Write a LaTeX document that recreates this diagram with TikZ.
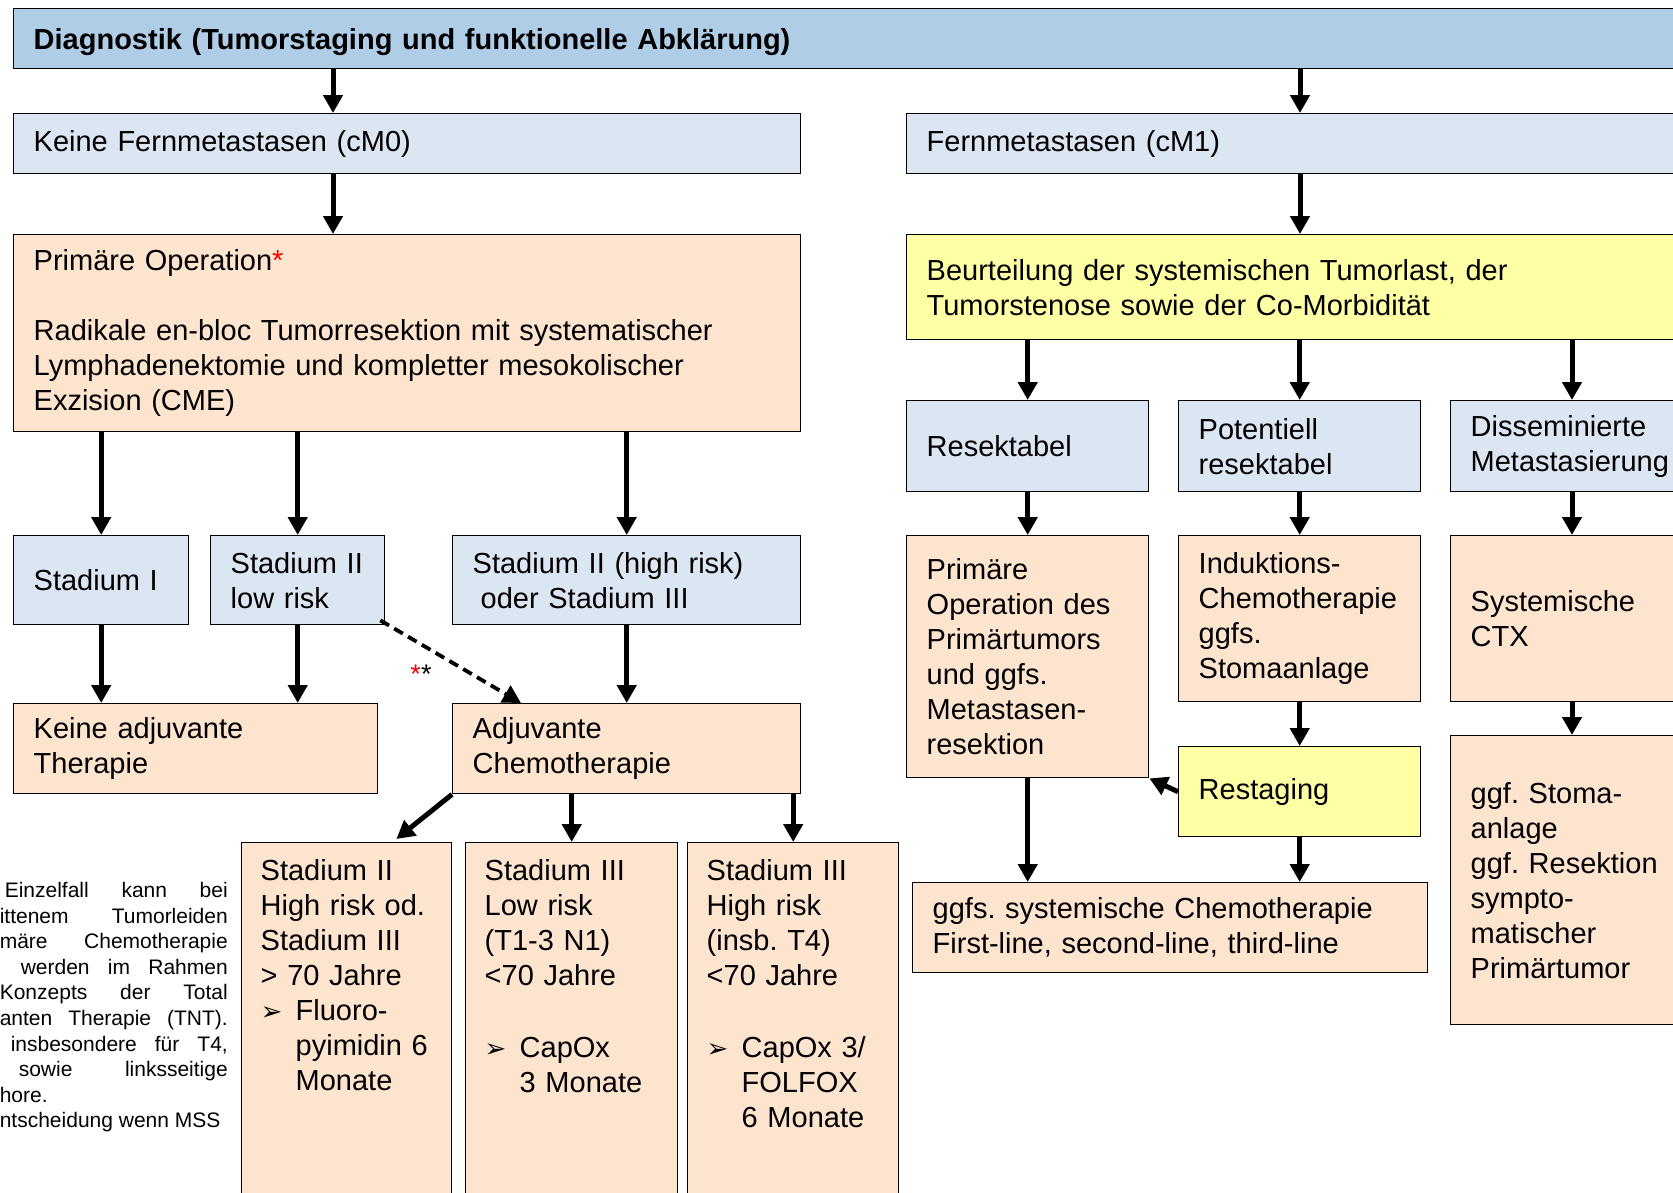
\documentclass[tikz,border=0pt]{standalone}
\usepackage{fontspec}
\setmainfont{Liberation Sans}
\newfontfamily\symfont{DejaVu Sans}
\usepackage{xcolor}
\usetikzlibrary{arrows.meta, positioning}
\definecolor{diagblue}{HTML}{B0CDE8}
\definecolor{paleblue}{HTML}{DCE6F2}
\definecolor{peach}{HTML}{FDE4CE}
\definecolor{paleyellow}{HTML}{FFFFA6}
\hyphenpenalty=10000
\frenchspacing

\newcommand{\bul}{{\symfont\fontsize{26}{26}\selectfont ➢}}
\newcommand{\bitem}[1]{\makebox[35pt][l]{\bul}\parbox[t]{137pt}{#1}}

\begin{document}
\begin{tikzpicture}[
    x=1pt, y=-1pt,
    every node/.style={font=\fontsize{29}{35}\selectfont},
    box/.style={draw=black, line width=1.4pt, anchor=north west, align=left, inner xsep=20pt, inner ysep=4pt},
    topbox/.style={box, fill=diagblue, font=\fontsize{29}{35}\selectfont\bfseries, text depth=0pt},
    bluebox/.style={box, fill=paleblue},
    peachbox/.style={box, fill=peach},
    yellowbox/.style={box, fill=paleyellow},
    tallbox/.style={peachbox, inner xsep=19pt, inner ysep=17pt, text depth=420pt},
    flow/.style={line width=5pt, -{Triangle[width=19pt,length=18pt]}},
    hint/.style={flow, line width=3.8pt, dash pattern=on 10pt off 6pt},
    fnote/.style={font=\fontsize{21}{25.6}\selectfont, align=right, inner sep=0pt, anchor=north east}
]
\clip (0,0) rectangle (1673,1192);

% Diagnostik
\node[topbox, text width=1647pt, minimum height=60pt] (diag) at (13,8) {Diagnostik (Tumorstaging und funktionelle Abklärung)};

% Left branch (cM0)
\node[bluebox, text width=747pt, minimum height=60pt] (cm0) at (13,113) {Keine Fernmetastasen (cM0)};
\node[peachbox, text width=747pt, minimum height=197pt] (op) at (13,234) {Primäre Operation{\color{red}*}\\[35pt]Radikale en-bloc Tumorresektion mit systematischer\\Lymphadenektomie und kompletter mesokolischer\\Exzision (CME)};

\node[bluebox, text width=135pt, minimum height=89pt] (st1) at (13,535) {Stadium I};
\node[bluebox, text width=134pt, minimum height=89pt] (st2low) at (210,535) {Stadium II\\low risk};
\node[bluebox, text width=308pt, minimum height=89pt] (st2high) at (452,535) {Stadium II (high risk)\\\hspace*{8pt}oder Stadium III};

\node[peachbox, text width=324pt, minimum height=90pt] (keine) at (13,703) {Keine adjuvante\\Therapie};
\node[peachbox, text width=308pt, minimum height=90pt] (adj) at (452,703) {Adjuvante\\Chemotherapie};

\node[tallbox, text width=172pt] (ad1) at (241,842) {Stadium II\\High risk od.\\Stadium III\\> 70 Jahre\\\bitem{Fluoro-\\pyimidin 6\\Monate}};
\node[tallbox, text width=174pt] (ad2) at (465,842) {Stadium III\\Low risk\\(T1-3 N1)\\<70 Jahre\\[37pt]\bitem{CapOx\\3 Monate}};
\node[tallbox, text width=173pt] (ad3) at (687,842) {Stadium III\\High risk\\(insb. T4)\\<70 Jahre\\[37pt]\bitem{CapOx 3/\\FOLFOX\\6 Monate}};

\node[font=\fontsize{27}{27}\selectfont, inner sep=0pt] (stars) at (421,674) {{\color{red}*}*};

% Footnote (cut at left edge)
\node[fnote] (fn) at (228,882) {\makebox[223pt][s]{Einzelfall kann bei}\\
\makebox[228pt][s]{ittenem Tumorleiden}\\
\makebox[228pt][s]{märe Chemotherapie}\\
\makebox[207pt][s]{werden im Rahmen}\\
\makebox[228pt][s]{Konzepts der Total}\\
\makebox[228pt][s]{anten Therapie (TNT).}\\
\makebox[217pt][s]{insbesondere für T4,}\\
\makebox[209pt][s]{sowie linksseitige}\\
\makebox[228pt][l]{hore.}\\
\makebox[228pt][l]{ntscheidung wenn MSS}};

% Right branch (cM1)
\node[bluebox, text width=754pt, minimum height=60pt] (cm1) at (906,113) {Fernmetastasen (cM1)};
\node[yellowbox, text width=754pt, minimum height=105pt] (beurt) at (906,234) {Beurteilung der systemischen Tumorlast, der\\Tumorstenose sowie der Co-Morbidität};

\node[bluebox, text width=202pt, minimum height=91pt] (res) at (906,400) {Resektabel};
\node[bluebox, text width=202pt, minimum height=91pt] (potres) at (1178,400) {Potentiell\\resektabel};
\node[bluebox, text width=210pt, minimum height=91pt] (dissem) at (1450,400) {Disseminierte\\Metastasierung};

\node[peachbox, text width=202pt, minimum height=242pt] (opmet) at (906,535) {Primäre\\Operation des\\Primärtumors\\und ggfs.\\Metastasen-\\resektion};
\node[peachbox, text width=202pt, minimum height=166pt] (induk) at (1178,535) {Induktions-\\Chemotherapie\\ggfs.\\Stomaanlage};
\node[peachbox, text width=210pt, minimum height=166pt] (ctx) at (1450,535) {Systemische\\CTX};

\node[yellowbox, text width=202pt, minimum height=90pt] (restag) at (1178,746) {Restaging};
\node[peachbox, text width=210pt, minimum height=289pt] (stoma) at (1450,735) {ggf. Stoma-\\anlage\\ggf. Resektion\\sympto-\\matischer\\Primärtumor};
\node[peachbox, text width=475pt, minimum height=90pt] (chemo) at (912,882) {ggfs. systemische Chemotherapie\\First-line, second-line, third-line};

% Connecting arrows
\coordinate (colL) at (333,0);
\coordinate (colR) at (1300,0);
\coordinate (colD) at (1572,0);

\draw[flow] (diag.south -| colL) -- (cm0.north -| colL);
\draw[flow] (cm0.south -| colL) -- (op.north -| colL);
\draw[flow] (diag.south -| colR) -- (cm1.north -| colR);
\draw[flow] (cm1.south -| colR) -- (beurt.north -| colR);

\draw[flow] (op.south -| st1.north) -- (st1.north);
\draw[flow] (op.south -| st2low.north) -- (st2low.north);
\draw[flow] (op.south -| st2high.north) -- (st2high.north);
\draw[flow] (st1.south) -- (keine.north -| st1.south);
\draw[flow] (st2low.south) -- (keine.north -| st2low.south);
\draw[flow] (st2high.south) -- (adj.north -| st2high.south);
\draw[hint] ([shift={(-5pt,5pt)}]st2low.south east) -- ([xshift=69pt]adj.north west);
\draw[flow] (adj.south west) -- ([xshift=-56pt,yshift=3pt]ad1.north east);
\draw[flow] (adj.south -| ad2.north) -- (ad2.north);
\draw[flow] (adj.south -| ad3.north) -- (ad3.north);

\draw[flow] (beurt.south -| res.north) -- (res.north);
\draw[flow] (beurt.south -| potres.north) -- (potres.north);
\draw[flow] (beurt.south -| colD) -- (dissem.north -| colD);
\draw[flow] (res.south) -- (opmet.north);
\draw[flow] (potres.south) -- (induk.north);
\draw[flow] (dissem.south -| colD) -- (ctx.north -| colD);
\draw[flow] (induk.south) -- (restag.north);
\draw[flow] (ctx.south -| colD) -- (stoma.north -| colD);
\draw[flow] (restag.west) -- (opmet.south east);
\draw[flow] (opmet.south) -- (chemo.north -| opmet.south);
\draw[flow] (restag.south) -- (chemo.north -| restag.south);

\end{tikzpicture}
\end{document}
